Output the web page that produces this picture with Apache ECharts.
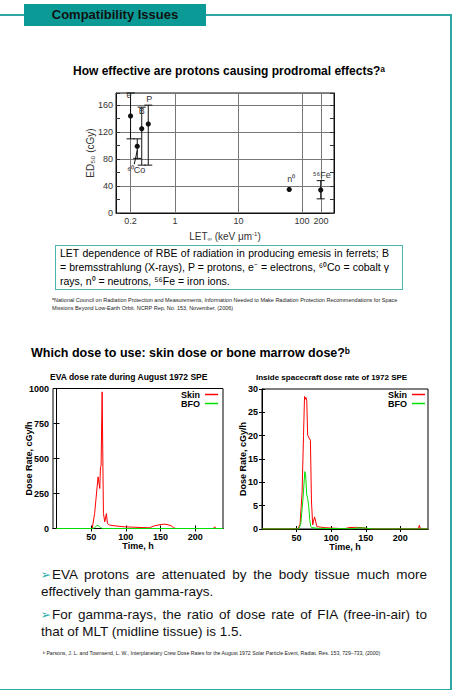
<!DOCTYPE html>
<html>
<head>
<meta charset="utf-8">
<script src="https://cdn.jsdelivr.net/npm/echarts@6/dist/echarts.min.js"></script>
<style>
  html, body { margin: 0; padding: 0; background: #fff; }
  body { font-family: "Liberation Sans", Arial, sans-serif; color: #000; }
  #page { position: relative; width: 458px; height: 694px; overflow: hidden; }
  #chart { position: absolute; left: 0; top: 0; width: 458px; height: 694px; }
  .abs { position: absolute; }
  .line { position: absolute; background: #2fa8a3; }
  #hdr { left: 24px; top: 4px; width: 182px; height: 22px; background: #0b9a96; font-weight: bold; font-size: 13px; line-height: 22px; text-align: center; color: #111; }
  .ttl { font-weight: bold; white-space: nowrap; }
  #cap { left: 55px; top: 245px; width: 348px; height: 45px; box-sizing: border-box; border: 1px solid #4db5b0; padding: 1px 13px 0 4px; font-size: 10.5px; line-height: 13.8px; text-align: justify; }
  .fn { white-space: nowrap; color: #222; }
  .bl1 { left: 52px; width: 375px; font-size: 13.5px; line-height: 17.3px; text-align: justify; text-align-last: justify; white-space: nowrap; color: #111; }
  .bl2 { left: 41px; font-size: 13.5px; line-height: 17.3px; white-space: nowrap; color: #111; }
  .arr { left: 40.5px; color: #2fb3aa; font-family: "DejaVu Sans", sans-serif; font-size: 12.5px; line-height: 17.3px; }
</style>
</head>
<body>
<div id="page">
  <div id="chart"></div>
  <!-- frame -->
  <div class="line" style="left:0;top:14px;width:451px;height:1.5px;"></div>
  <div class="line" style="left:450px;top:14px;width:1.5px;height:676px;"></div>
  <div class="line" style="left:0;top:688.5px;width:451.5px;height:1.5px;"></div>
  <div id="hdr" class="abs">Compatibility Issues</div>

  <div class="abs ttl" style="left:0;width:458px;top:64px;font-size:12px;text-align:center;">How effective are protons causing prodromal effects?ᵃ</div>

  <div id="cap" class="abs">LET dependence of RBE of radiation in producing emesis in ferrets; B = bremsstrahlung (X-rays), P = protons, e⁻ = electrons, ⁶⁰Co = cobalt γ rays, n⁰ = neutrons, ⁵⁶Fe = iron ions.</div>

  <div class="abs fn" style="left:52px;top:297px;font-size:5.5px;line-height:7.5px;">ᵃNational Council on Radiation Protection and Measurements, Information Needed to Make Radiation Protection Recommendations for Space<br>Missions Beyond Low-Earth Orbit. NCRP Rep. No. 153, November, (2006)</div>

  <div class="abs ttl" style="left:31px;top:346px;font-size:12.5px;">Which dose to use: skin dose or bone marrow dose?ᵇ</div>

  <div class="abs arr" style="top:566px;">➢</div>
  <div class="abs bl1" style="top:566px;">EVA protons are attenuated by the body tissue much more</div>
  <div class="abs bl2" style="top:583.3px;">effectively than gamma-rays.</div>
  <div class="abs arr" style="top:606px;">➢</div>
  <div class="abs bl1" style="top:606px;">For gamma-rays, the ratio of dose rate of FIA (free-in-air) to</div>
  <div class="abs bl2" style="top:623.3px;">that of MLT (midline tissue) is 1.5.</div>

  <div class="abs fn" style="left:43px;top:650px;font-size:5.2px;line-height:7px;">ᵇ Parsons, J. L. and Townsend, L. W., Interplanetary Crew Dose Rates for the August 1972 Solar Particle Event, Radiat. Res. 153, 729–733, (2000)</div>
</div>

<script>
// ---------- Chart 1: ED50 vs LET ----------
const letValues   = [0.2, 0.255, 0.30, 0.38, 63, 197];
const ed50Values  = [144, 99, 125, 132, 35, 34];
const ed50ErrLow  = [110, 81, 71, 71, null, 21];
const ed50ErrHigh = [178, 110, 157, 160, null, 48];
const pointLabels = ['e⁻', '⁶⁰Co', 'B', 'P', 'n⁰', '⁵⁶Fe'];
const letTicks    = [0.2, 1, 10, 100, 200];

// ---------- Chart 2: EVA dose rate ----------
const evaSkinTime = [0, 50, 51.5, 55, 58.6, 60, 62.4, 63.4, 64.3, 65.8, 67.7, 69.6, 72, 73.4, 76.7, 84, 98, 122, 134, 141, 150.8, 156.5, 165, 169, 172, 226, 228, 230, 240];
const evaSkinRate = [0, 0, 0, 107, 298, 369, 286, 440, 445, 976, 107, 48, 107, 36, 24, 19, 12, 7, 5, 19, 29, 31, 21, 5, 0, 0, 12, 0, 0];
const evaBfoTime  = [0, 52, 55, 58, 60, 62, 64, 66, 240];
const evaBfoRate  = [0, 0, 6, 20, 21, 15, 5, 0, 0];

// ---------- Chart 3: inside spacecraft ----------
const inSkinTime = [0, 52, 55, 58, 60, 61.5, 62.5, 63.5, 64.7, 66, 68, 70, 71.5, 73.3, 76, 79.4, 90, 100, 120, 125, 135, 145, 152, 155, 226, 227.5, 229, 240];
const inSkinRate = [0, 0, 1, 8, 20, 28.4, 27.8, 28.2, 27.5, 20.1, 19.5, 19, 6, 0.9, 2.6, 0.5, 0.3, 0.2, 0.05, 0.3, 0.35, 0.3, 0.1, 0, 0, 0.8, 0, 0];
const inBfoTime  = [0, 53, 56, 59, 61.9, 63, 64.7, 66, 67.6, 69, 70.4, 72, 80, 100, 130, 140, 150, 160, 240];
const inBfoRate  = [0, 0, 1, 6, 12.3, 11.9, 7.3, 6.6, 4.8, 2, 0.5, 0.3, 0.15, 0.1, 0.05, 0.25, 0.2, 0, 0];
const timeTicks  = [50, 100, 150, 200];

const FONT = 'Liberation Sans';
const labelOffsets = [[0, -21], [-1, 24], [0, -18], [1, -25], [2, -10], [1, -15]];

const zip = (a, b) => a.map((v, i) => [v, b[i]]);
const plain = (v) => String(+v);

const chart = echarts.init(document.getElementById('chart'), null, { renderer: 'svg' });

const baseAxis = (extra) => Object.assign({
  nameMoveOverlap: false,
  axisLine: { show: true, lineStyle: { color: '#000', width: 1 } },
  axisTick: { show: true, inside: true, length: 3, lineStyle: { color: '#000' } },
  axisLabel: { show: true, color: '#000', fontFamily: FONT, fontSize: 9, fontWeight: 'bold', margin: 4, formatter: plain },
  splitLine: { show: false }
}, extra);

const mirror = (extra) => Object.assign({
  axisLine: { show: true, lineStyle: { color: '#000', width: 1 } },
  axisTick: { show: true, inside: true, length: 3, lineStyle: { color: '#000' } },
  axisLabel: { show: false },
  splitLine: { show: false }
}, extra);

const legendStyle = { fontFamily: FONT, fontSize: 9, fontWeight: 'bold', color: '#000', lineHeight: 8 };

const option = {
  animation: false,
  backgroundColor: 'transparent',
  title: [
    { text: 'EVA dose rate during August 1972 SPE', left: 50, top: 372,
      textStyle: { fontFamily: FONT, fontSize: 8.5, fontWeight: 'bold', color: '#000' }, padding: 0 },
    { text: 'Inside spacecraft dose rate of 1972 SPE', left: 256, top: 373,
      textStyle: { fontFamily: FONT, fontSize: 8, fontWeight: 'bold', color: '#000' }, padding: 0 }
  ],
  legend: [
    { data: ['Skin', 'BFO'], orient: 'vertical', align: 'right', right: 240, top: 390, padding: 0,
      itemGap: 0, itemWidth: 13, itemHeight: 1.5, icon: 'rect', textStyle: legendStyle },
    { data: ['Skin', 'BFO'], orient: 'vertical', align: 'right', right: 33, top: 390, padding: 0,
      itemGap: 0, itemWidth: 13, itemHeight: 1.5, icon: 'rect', textStyle: legendStyle }
  ],
  grid: [
    { left: 116, top: 93, width: 218, height: 120, show: true, borderColor: '#111', borderWidth: 1, outerBoundsMode: 'none', containLabel: false },
    { left: 53, top: 388.5, width: 170, height: 140, show: true, borderColor: '#000', borderWidth: 1, outerBoundsMode: 'none', containLabel: false },
    { left: 262, top: 389, width: 166, height: 140, show: true, borderColor: '#000', borderWidth: 1, outerBoundsMode: 'none', containLabel: false }
  ],
  xAxis: [
    { type: 'log', logBase: 10, gridIndex: 0, min: 0.118, max: 319,
      nameMoveOverlap: false,
      name: 'LET{s|∞} (keV μm{p|-1})', nameLocation: 'middle', nameGap: 17,
      nameTextStyle: { fontFamily: FONT, fontSize: 10, color: '#333',
        rich: { s: { fontSize: 6, fontFamily: FONT, color: '#333', padding: [6, 0, 0, 0] }, p: { fontSize: 6, fontFamily: FONT, color: '#333', padding: [0, 0, 5, 0] } } },
      axisLine: { show: true, lineStyle: { color: '#111' } },
      axisTick: { show: false, customValues: letTicks },
      axisLabel: { show: true, customValues: letTicks, color: '#333', fontFamily: FONT, fontSize: 9, margin: 3,
        formatter: (v) => String(+(+v).toPrecision(3)) },
      minorTick: { show: false },
      splitLine: { show: true, lineStyle: { color: '#777', width: 1 } } },
    baseAxis({ type: 'value', gridIndex: 1, min: -5, max: 240, name: 'Time, h', nameLocation: 'middle', nameGap: 13,
      nameTextStyle: { fontFamily: FONT, fontSize: 9, fontWeight: 'bold', color: '#000' },
      axisTick: { show: true, inside: true, length: 3, customValues: timeTicks, lineStyle: { color: '#000' } },
      axisLabel: { show: true, customValues: timeTicks, color: '#000', fontFamily: FONT, fontSize: 9, fontWeight: 'bold', margin: 4, formatter: plain } }),
    mirror({ type: 'value', gridIndex: 1, position: 'top', min: -5, max: 240,
      axisTick: { show: true, inside: true, length: 3, customValues: timeTicks, lineStyle: { color: '#000' } } }),
    baseAxis({ type: 'value', gridIndex: 2, min: 0, max: 240, name: 'Time, h', nameLocation: 'middle', nameGap: 13,
      nameTextStyle: { fontFamily: FONT, fontSize: 9, fontWeight: 'bold', color: '#000' },
      axisTick: { show: true, inside: true, length: 3, customValues: timeTicks, lineStyle: { color: '#000' } },
      axisLabel: { show: true, customValues: timeTicks, color: '#000', fontFamily: FONT, fontSize: 9, fontWeight: 'bold', margin: 4, formatter: plain } }),
    mirror({ type: 'value', gridIndex: 2, position: 'top', min: 0, max: 240,
      axisTick: { show: true, inside: true, length: 3, customValues: timeTicks, lineStyle: { color: '#000' } } })
  ],
  yAxis: [
    { type: 'value', gridIndex: 0, min: 0, max: 178, interval: 40,
      nameMoveOverlap: false,
      name: 'ED₅₀ (cGy)', nameLocation: 'middle', nameGap: 21,
      nameTextStyle: { fontFamily: FONT, fontSize: 10, color: '#333' },
      axisLine: { show: true, lineStyle: { color: '#111' } },
      axisTick: { show: true, inside: true, length: 4, lineStyle: { color: '#333' } },
      minorTick: { show: true, splitNumber: 2, length: 4, lineStyle: { color: '#333' } },
      axisLabel: { show: true, color: '#333', fontFamily: FONT, fontSize: 9, margin: 3, showMaxLabel: false, formatter: plain },
      splitLine: { show: true, lineStyle: { color: '#777', width: 1 } } },
    { type: 'value', gridIndex: 0, position: 'right', min: 0, max: 178, interval: 40,
      axisLine: { show: true, lineStyle: { color: '#111' } },
      axisTick: { show: true, inside: true, length: 4, lineStyle: { color: '#333' } },
      minorTick: { show: true, splitNumber: 2, length: 4, lineStyle: { color: '#333' } },
      axisLabel: { show: false }, splitLine: { show: false } },
    baseAxis({ type: 'value', gridIndex: 1, min: 0, max: 1000, interval: 250,
      name: 'Dose Rate, cGy/h', nameLocation: 'middle', nameGap: 20,
      nameTextStyle: { fontFamily: FONT, fontSize: 9, fontWeight: 'bold', color: '#000' } }),
    mirror({ type: 'value', gridIndex: 1, position: 'right', min: 0, max: 1000, interval: 250 }),
    baseAxis({ type: 'value', gridIndex: 2, min: 0, max: 30, interval: 5,
      name: 'Dose Rate, cGy/h', nameLocation: 'middle', nameGap: 15,
      nameTextStyle: { fontFamily: FONT, fontSize: 9, fontWeight: 'bold', color: '#000' } }),
    mirror({ type: 'value', gridIndex: 2, position: 'right', min: 0, max: 30, interval: 5 })
  ],
  series: [
    {
      type: 'custom', name: 'ED50', xAxisIndex: 0, yAxisIndex: 0, clip: false,
      data: letValues.map((x, i) => [x, ed50Values[i],
        ed50ErrLow[i] == null ? '-' : ed50ErrLow[i],
        ed50ErrHigh[i] == null ? '-' : ed50ErrHigh[i]]),
      renderItem: (params, api) => {
        const i = params.dataIndex;
        const x = api.value(0), y = api.value(1), lo = api.value(2), hi = api.value(3);
        const p = api.coord([x, y]);
        const children = [];
        const st = { stroke: '#111', lineWidth: 1 };
        if (!isNaN(lo) && !isNaN(hi)) {
          const a = api.coord([x, lo]), b = api.coord([x, hi]);
          children.push({ type: 'line', shape: { x1: a[0], y1: a[1], x2: b[0], y2: b[1] }, style: st });
          children.push({ type: 'line', shape: { x1: a[0] - 4, y1: a[1], x2: a[0] + 4, y2: a[1] }, style: st });
          children.push({ type: 'line', shape: { x1: b[0] - 4, y1: b[1], x2: b[0] + 4, y2: b[1] }, style: st });
        }
        children.push({ type: 'circle', shape: { cx: p[0], cy: p[1], r: 2.6 }, style: { fill: '#111' } });
        const off = labelOffsets[i];
        children.push({ type: 'text', x: p[0] + off[0], y: p[1] + off[1],
          style: { text: pointLabels[i], fill: '#333', font: '9px "Liberation Sans"', align: 'center', verticalAlign: 'middle' } });
        if (i === 1) {
          children.push({ type: 'line', shape: { x1: p[0] - 3, y1: p[1] + 18, x2: p[0], y2: p[1] + 4 }, style: st });
        }
        return { type: 'group', children };
      }
    },
    { type: 'line', name: 'Skin', xAxisIndex: 1, yAxisIndex: 2, data: zip(evaSkinTime, evaSkinRate),
      showSymbol: false, symbol: 'none', lineStyle: { color: '#ff0000', width: 1 }, itemStyle: { color: '#ff0000' } },
    { type: 'line', name: 'BFO', xAxisIndex: 1, yAxisIndex: 2, data: zip(evaBfoTime, evaBfoRate),
      showSymbol: false, symbol: 'none', lineStyle: { color: '#00e000', width: 1 }, itemStyle: { color: '#00e000' } },
    { type: 'line', name: 'Skin', xAxisIndex: 3, yAxisIndex: 4, data: zip(inSkinTime, inSkinRate),
      showSymbol: false, symbol: 'none', lineStyle: { color: '#ff0000', width: 1 }, itemStyle: { color: '#ff0000' } },
    { type: 'line', name: 'BFO', xAxisIndex: 3, yAxisIndex: 4, data: zip(inBfoTime, inBfoRate),
      showSymbol: false, symbol: 'none', lineStyle: { color: '#00e000', width: 1 }, itemStyle: { color: '#00e000' } }
  ]
};
chart.setOption(option);
</script>
</body>
</html>
